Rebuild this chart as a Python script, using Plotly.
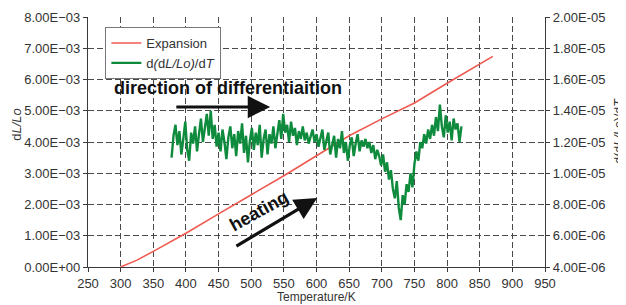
import plotly.graph_objects as go

# Expansion curve (dL/Lo) vs temperature
exp_T = [300, 325, 350, 400, 450, 500, 550, 600, 650, 700, 750, 800, 870]
exp_val = [0.0, 0.22e-3, 0.50e-3, 1.08e-3, 1.70e-3, 2.30e-3, 2.92e-3, 3.56e-3, 4.20e-3, 4.74e-3, 5.25e-3, 5.88e-3, 6.74e-3]

# Derivative d(dL/Lo)/dT (units of 1e-5), sampled every 3 K from 378 K
der_T_start = 378
der_T_step = 3
der_val_e5 = [
    1.10, 1.24, 1.31, 1.18, 1.27, 1.12, 1.22, 1.33, 1.15, 1.08, 1.26, 1.19, 1.30, 1.14, 1.25, 1.35, 1.20, 1.29, 1.38, 1.24, 1.40, 1.22, 1.31, 1.17, 1.26,
    1.14, 1.28, 1.20, 1.09, 1.23, 1.30, 1.16, 1.25, 1.11, 1.27, 1.19, 1.32, 1.13, 1.24, 1.07, 1.21, 1.29, 1.15, 1.26, 1.18, 1.31, 1.10, 1.22, 1.28, 1.12,
    1.25, 1.19, 1.30, 1.16, 1.27, 1.34, 1.22, 1.38, 1.26, 1.31, 1.20, 1.33, 1.24, 1.29, 1.18, 1.27, 1.22, 1.30, 1.21, 1.26, 1.19, 1.24, 1.28, 1.20, 1.25,
    1.17, 1.23, 1.28, 1.15, 1.21, 1.26, 1.12, 1.19, 1.24, 1.10, 1.22, 1.16, 1.27, 1.13, 1.20, 1.08, 1.18, 1.23, 1.11, 1.19, 1.25, 1.14, 1.21, 1.17, 1.22,
    1.16, 1.20, 1.13, 1.18, 1.09, 1.15, 1.11, 1.05, 1.12, 1.01, 1.07, 0.96, 1.02, 0.90, 0.84, 0.95, 0.78, 0.70, 0.86, 0.80, 0.93, 0.88, 1.00, 0.91, 1.06,
    1.14, 1.08, 1.20, 1.16, 1.25, 1.19, 1.28, 1.22, 1.31, 1.24, 1.36, 1.27, 1.44, 1.30, 1.23, 1.37, 1.26, 1.33, 1.21, 1.35, 1.28, 1.32, 1.20, 1.30,
]
der_T = [der_T_start + der_T_step * i for i in range(len(der_val_e5))]
der_val = [v * 1e-5 for v in der_val_e5]

x_ticks = list(range(250, 951, 50))
left_tickvals = [i * 1e-3 for i in range(9)]
left_ticktext = ["0.00E+00"] + ["%d.00E\u221203" % i for i in range(1, 9)]
right_tickvals = [4e-6, 6e-6, 8e-6, 1.0e-5, 1.2e-5, 1.4e-5, 1.6e-5, 1.8e-5, 2.0e-5]
right_ticktext = ["4.00E-06", "6.00E-06", "8.00E-06", "1.00E-05", "1.20E-05",
                  "1.40E-05", "1.60E-05", "1.80E-05", "2.00E-05"]

FONT = "Liberation Sans, Arial, sans-serif"
AX = "#3a3a3a"
TXT = "#333333"

fig = go.Figure()
fig.add_trace(go.Scatter(x=exp_T, y=exp_val, mode="lines", name="Expansion",
                         line=dict(color="#ef5a50", width=1.6)))
fig.add_trace(go.Scatter(x=der_T, y=der_val, mode="lines", name="d<i>(</i>d<i>L/Lo)</i>/d<i>T</i>",
                         line=dict(color="#0e8b3c", width=2.4), yaxis="y2"))

grid = dict(showgrid=True, gridcolor="#4a4a4a", griddash="6px,3px", gridwidth=1)
tickfont = dict(size=13, color=TXT)

# the page body has an 8px margin, so the figure is sized to fill the rest of the window
fig.update_layout(
    width=618, height=297,
    margin=dict(l=80, r=81, t=9, b=38),
    paper_bgcolor="white", plot_bgcolor="white",
    font=dict(family=FONT, size=12, color=TXT),
    showlegend=True,
    legend=dict(x=0.038, y=0.96, xanchor="left", yanchor="top",
                bgcolor="white", bordercolor="#777777", borderwidth=1,
                font=dict(size=13, color=TXT), tracegroupgap=0,
                itemwidth=30),
    xaxis=dict(range=[250, 950], tickvals=x_ticks, ticktext=[str(t) for t in x_ticks],
               ticks="outside", ticklen=4, tickcolor=AX, showline=True, linecolor=AX,
               linewidth=1.2, mirror=False, zeroline=False, automargin=False,
               tickfont=tickfont,
               **grid),
    yaxis=dict(range=[0, 8e-3], tickvals=left_tickvals, ticktext=left_ticktext,
               ticks="outside", ticklen=4, tickcolor=AX, showline=True, linecolor=AX,
               linewidth=1.2, zeroline=False, automargin=False, tickfont=tickfont,
               **grid),
    yaxis2=dict(range=[4e-6, 2e-5], tickvals=right_tickvals, ticktext=right_ticktext,
                overlaying="y", side="right", ticks="outside", ticklen=4, tickcolor=AX,
                showline=True, linecolor=AX, linewidth=1.2, showgrid=False, zeroline=False,
                automargin=False, tickfont=tickfont),
)

# axis titles
fig.add_annotation(x=0.5, y=-0.12, xref="paper", yref="paper",
                   xanchor="center", yanchor="middle",
                   text="Temperature/K", showarrow=False, font=dict(size=12, color=TXT))
fig.add_annotation(x=-0.157, y=0.57, xref="paper", yref="paper",
                   xanchor="center", yanchor="middle",
                   text="d<i>L/Lo</i>", showarrow=False, textangle=-90,
                   font=dict(size=13, color=TXT))
fig.add_annotation(x=1.162, y=0.545, xref="paper", yref="paper",
                   xanchor="center", yanchor="middle",
                   text="d(d<i>L/Lo</i>)/d<i>T</i>", showarrow=False, textangle=-90,
                   font=dict(size=12.5, color=TXT))

fig.add_annotation(x=464, y=5.73e-3, xref="x", yref="y",
                   text="<b>direction of differentiaition</b>", showarrow=False,
                   font=dict(size=18, color="#111111", family=FONT))
fig.add_annotation(x=529, y=5.12e-3, ax=383, ay=5.12e-3, xref="x", yref="y",
                   axref="x", ayref="y", text="", showarrow=True,
                   arrowhead=2, arrowsize=1.4, arrowwidth=3.2, arrowcolor="#111111")
fig.add_annotation(x=512, y=1.79e-3, xref="x", yref="y",
                   text="<b>heating</b>", showarrow=False, textangle=-29,
                   font=dict(size=18, color="#111111", family=FONT))
fig.add_annotation(x=601, y=2.21e-3, ax=475, ay=0.64e-3, xref="x", yref="y",
                   axref="x", ayref="y", text="", showarrow=True,
                   arrowhead=2, arrowsize=1.4, arrowwidth=3.2, arrowcolor="#111111")

fig.write_html("out.html")
